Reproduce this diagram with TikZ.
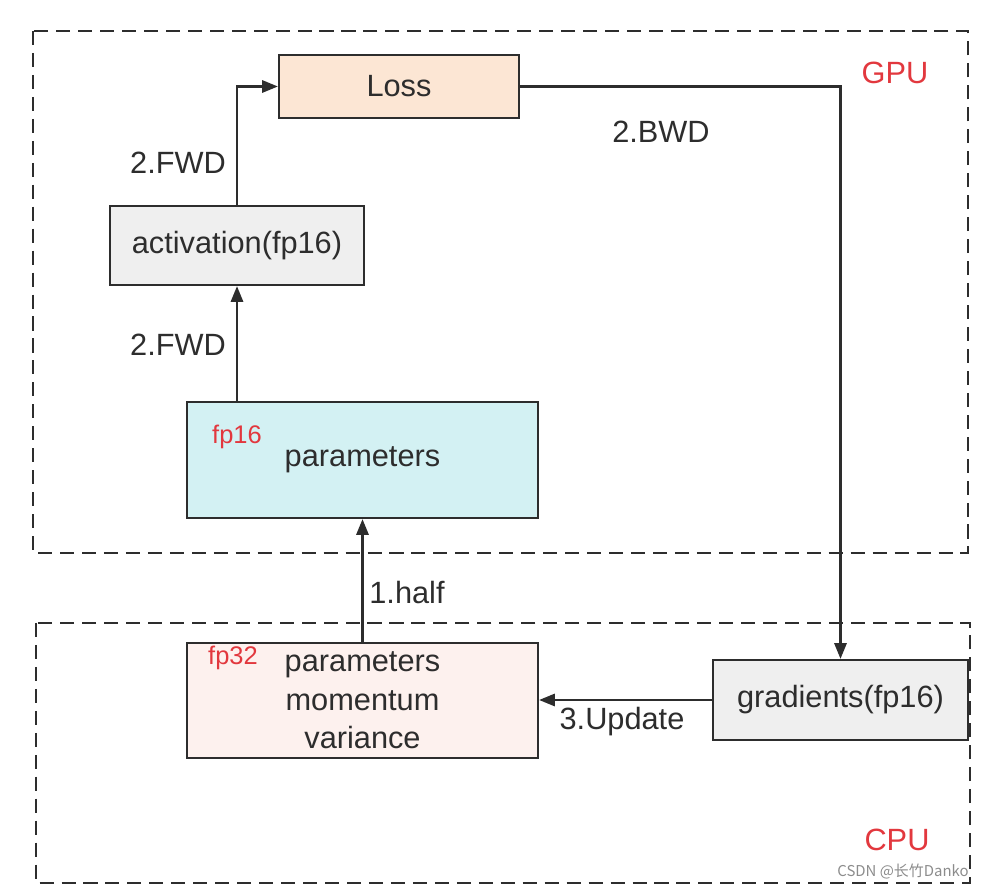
\documentclass[tikz,border=0pt]{standalone}
\usepackage{fontspec}
\setmainfont{Liberation Sans}
\newfontfamily\cjkfont{Noto Sans CJK SC}
\usetikzlibrary{arrows.meta}
\definecolor{linecol}{RGB}{45,45,45}
\definecolor{redcol}{RGB}{226,56,62}
\definecolor{losscol}{RGB}{252,230,212}
\definecolor{greycol}{RGB}{239,239,239}
\definecolor{cyancol}{RGB}{211,241,243}
\definecolor{pinkcol}{RGB}{253,241,238}

\begin{document}
\begin{tikzpicture}[x=0.02cm,y=-0.02cm,
    every node/.style={font=\fontsize{17.5}{21.8}\selectfont, text=linecol},
    block/.style={draw=linecol, line width=1.3pt, inner sep=0pt, align=center},
    region/.style={draw=linecol, line width=1.6pt, dash pattern=on 8pt off 4.5pt},
    flow/.style={draw=linecol, line width=1.3pt, -{Triangle[length=9pt,width=7pt]}},
    tag/.style={text=redcol, font=\fontsize{14.5}{17}\selectfont}]

    \useasboundingbox (0,0) rectangle (995,891);

    % GPU and CPU regions
    \draw[region] (33,31) rectangle (968,553);
    \draw[region] (36,623) rectangle (970,883);
    \node[text=redcol] (gpu) at (895,73) {GPU};
    \node[text=redcol] (cpu) at (897,840) {CPU};

    % Blocks
    \node[block, fill=losscol, minimum width=4.8cm, minimum height=1.26cm] (loss) at (399,86.5) {Loss};
    \node[block, fill=greycol, minimum width=5.08cm, minimum height=1.58cm] (act) at (237,245.5) {activation(fp16)};
    \node[block, fill=cyancol, minimum width=7.02cm, minimum height=2.32cm] (p16) at (362.5,460) {\raisebox{-4pt}{parameters}};
    \node[block, fill=pinkcol, minimum width=7.02cm, minimum height=2.3cm] (p32) at (362.5,700.5) {parameters\\momentum\\variance};
    \node[block, fill=greycol, minimum width=5.1cm, minimum height=1.6cm] (grad) at (840.5,700) {gradients(fp16)};

    % Precision tags
    \node[tag] (t16) at (237,437) {fp16};
    \node[tag] (t32) at (233,658) {fp32};

    % Connectors
    \draw[flow] (act.north) |- (loss.west);
    \draw[flow] (act.south |- p16.north) -- (act.south);
    \draw[flow] (p32.north) -- (p16.south);
    \draw[flow] (loss.east) -| (grad.north);
    \draw[flow] (grad.west) -- (p32.east |- grad.west);

    % Step labels
    \node (fwdA) at (178,163) {2.FWD};
    \node (fwdB) at (178,345) {2.FWD};
    \node (bwd) at (661,132) {2.BWD};
    \node (half) at (407,593) {1.half};
    \node (upd) at (622,722) {3.Update};

    % Watermark
    \node[text=black!45, font=\fontsize{8.5}{10}\cjkfont] (mark) at (903,872) {CSDN @长竹Danko};

\end{tikzpicture}
\end{document}
